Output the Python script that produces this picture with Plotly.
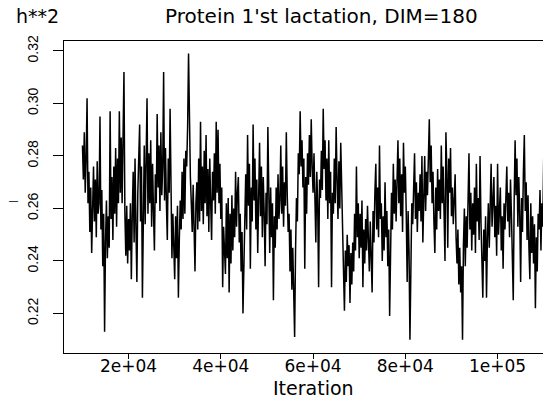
import plotly.graph_objects as go

# ---- data (one sample every 200 iterations) ----
start_iter = 10000
step_iter = 200
h2 = [
    0.284, 0.271, 0.289, 0.266, 0.279, 0.302, 0.262, 0.274, 0.251, 0.268,
    0.243, 0.266, 0.276, 0.255, 0.271, 0.249, 0.278, 0.258, 0.262, 0.295,
    0.252, 0.267, 0.238, 0.258, 0.213, 0.247, 0.263, 0.241, 0.257, 0.245,
    0.297, 0.256, 0.272, 0.248, 0.276, 0.258, 0.283, 0.253, 0.279, 0.262,
    0.297, 0.266, 0.287, 0.262, 0.283, 0.312, 0.258, 0.242, 0.261, 0.239,
    0.256, 0.244, 0.262, 0.233, 0.258, 0.274, 0.247, 0.279, 0.252, 0.232,
    0.266, 0.281, 0.292, 0.255, 0.276, 0.226, 0.263, 0.284, 0.254, 0.271,
    0.302, 0.258, 0.281, 0.262, 0.286, 0.253, 0.277, 0.259, 0.244, 0.273,
    0.262, 0.296, 0.268, 0.284, 0.259, 0.289, 0.265, 0.276, 0.312, 0.263,
    0.283, 0.262, 0.248, 0.279, 0.266, 0.298, 0.270, 0.241, 0.258, 0.245,
    0.233, 0.257, 0.241, 0.261, 0.226, 0.248, 0.263, 0.252, 0.274, 0.256,
    0.279, 0.258, 0.282, 0.276, 0.291, 0.319, 0.287, 0.272, 0.262, 0.251,
    0.269, 0.247, 0.236, 0.262, 0.270, 0.252, 0.279, 0.255, 0.293, 0.259,
    0.276, 0.254, 0.282, 0.262, 0.288, 0.257, 0.275, 0.251, 0.279, 0.262,
    0.248, 0.274, 0.263, 0.281, 0.258, 0.293, 0.266, 0.290, 0.262, 0.277,
    0.256, 0.268, 0.230, 0.253, 0.246, 0.235, 0.262, 0.241, 0.264, 0.228,
    0.258, 0.239, 0.265, 0.244, 0.260, 0.249, 0.274, 0.253, 0.266, 0.272,
    0.247, 0.258, 0.236, 0.251, 0.220, 0.244, 0.259, 0.273, 0.252, 0.288,
    0.261, 0.277, 0.237, 0.268, 0.255, 0.292, 0.263, 0.279, 0.252, 0.271,
    0.243, 0.268, 0.285, 0.257, 0.276, 0.249, 0.272, 0.258, 0.238, 0.266,
    0.254, 0.291, 0.259, 0.243, 0.268, 0.249, 0.262, 0.225, 0.257, 0.245,
    0.268, 0.252, 0.273, 0.256, 0.263, 0.284, 0.258, 0.276, 0.253, 0.270,
    0.261, 0.289, 0.265, 0.251, 0.258, 0.236, 0.252, 0.229, 0.245, 0.226,
    0.211, 0.244, 0.264, 0.255, 0.281, 0.273, 0.297, 0.276, 0.286, 0.268,
    0.279, 0.237, 0.272, 0.258, 0.281, 0.269, 0.288, 0.272, 0.294, 0.276,
    0.266, 0.281, 0.257, 0.247, 0.274, 0.262, 0.230, 0.271, 0.264, 0.282,
    0.267, 0.298, 0.275, 0.286, 0.263, 0.279, 0.256, 0.286, 0.262, 0.274,
    0.230, 0.266, 0.258, 0.279, 0.262, 0.291, 0.271, 0.256, 0.278, 0.260,
    0.285, 0.264, 0.247, 0.236, 0.221, 0.244, 0.232, 0.250, 0.238, 0.246,
    0.224, 0.243, 0.231, 0.247, 0.236, 0.258, 0.244, 0.276, 0.249, 0.262,
    0.241, 0.258, 0.245, 0.263, 0.230, 0.252, 0.239, 0.256, 0.244, 0.261,
    0.248, 0.236, 0.255, 0.242, 0.228, 0.259, 0.247, 0.266, 0.277, 0.252,
    0.268, 0.249, 0.284, 0.256, 0.262, 0.240, 0.257, 0.244, 0.270, 0.249,
    0.259, 0.238, 0.252, 0.219, 0.245, 0.266, 0.252, 0.277, 0.258, 0.271,
    0.255, 0.275, 0.286, 0.262, 0.279, 0.257, 0.273, 0.251, 0.285, 0.266,
    0.276, 0.258, 0.232, 0.259, 0.244, 0.210, 0.249, 0.262, 0.254, 0.272,
    0.281, 0.256, 0.270, 0.251, 0.266, 0.259, 0.273, 0.255, 0.280, 0.247,
    0.268, 0.280, 0.259, 0.274, 0.265, 0.282, 0.294, 0.270, 0.284, 0.262,
    0.274, 0.255, 0.243, 0.268, 0.252, 0.275, 0.259, 0.271, 0.256, 0.284,
    0.262, 0.276, 0.258, 0.240, 0.289, 0.274, 0.245, 0.279, 0.266, 0.283,
    0.257, 0.268, 0.254, 0.265, 0.273, 0.249, 0.239, 0.252, 0.231, 0.245,
    0.228, 0.238, 0.210, 0.246, 0.260, 0.238, 0.257, 0.245, 0.264, 0.281,
    0.252, 0.266, 0.244, 0.262, 0.250, 0.268, 0.243, 0.277, 0.255, 0.264,
    0.248, 0.280, 0.255, 0.238, 0.226, 0.252, 0.240, 0.257, 0.226, 0.249,
    0.262, 0.245, 0.268, 0.277, 0.253, 0.264, 0.272, 0.249, 0.261, 0.242,
    0.277, 0.250, 0.259, 0.268, 0.244, 0.257, 0.237, 0.262, 0.252, 0.270,
    0.276, 0.255, 0.266, 0.249, 0.271, 0.258, 0.246, 0.225, 0.263, 0.286,
    0.265, 0.279, 0.253, 0.272, 0.258, 0.232, 0.264, 0.251, 0.274, 0.288,
    0.259, 0.270, 0.248, 0.265, 0.245, 0.233, 0.262, 0.243, 0.257, 0.239,
    0.254, 0.222, 0.249, 0.236, 0.258, 0.252, 0.267, 0.244, 0.262, 0.253,
    0.279,
]
iterations = [start_iter + i * step_iter for i in range(len(h2))]

x_tick_vals = [20000, 40000, 60000, 80000, 100000]
x_tick_text = ["2e+04", "4e+04", "6e+04", "8e+04", "1e+05"]
y_tick_vals = [0.22, 0.24, 0.26, 0.28, 0.30, 0.32]
y_tick_text = ["0.22", "0.24", "0.26", "0.28", "0.30", "0.32"]

title_left = "h**2"
title_main = "Protein 1'st lactation, DIM=180"
x_label = "Iteration"
y_label = "|"

# ---- layout geometry (page pixels; the page body has an 8px margin) ----
BODY = 8
PAGE_W, PAGE_H = 551, 403
W, H = PAGE_W - BODY, PAGE_H - BODY
PLOT_L, PLOT_R, PLOT_T, PLOT_B = 64, 546, 41, 353   # plot area in page px
ML = PLOT_L - BODY
MT = PLOT_T - BODY
MR = W - (PLOT_R - BODY)
MB = H - (PLOT_B - BODY)
PW, PH = PLOT_R - PLOT_L, PLOT_B - PLOT_T


def px_x(p):
    return (p - PLOT_L) / PW


def px_y(p):
    return (PLOT_B - p) / PH


fig = go.Figure()
fig.add_trace(go.Scatter(
    x=iterations, y=h2, mode="lines",
    line=dict(color="black", width=1.5),
    hoverinfo="skip", showlegend=False,
))

tick_font = dict(family="DejaVu Sans", size=17, color="black")
fig.update_layout(
    width=W, height=H,
    margin=dict(l=ML, r=MR, t=MT, b=MB, pad=0, autoexpand=False),
    paper_bgcolor="white", plot_bgcolor="white",
    showlegend=False,
    xaxis=dict(
        range=[6000, 6000 + PW / 0.0046125],
        tickmode="array", tickvals=x_tick_vals, ticktext=x_tick_text,
        ticks="outside", ticklen=5, tickwidth=1, tickcolor="black",
        showline=True, linecolor="black", linewidth=1, mirror=True,
        showgrid=False, zeroline=False, automargin=False,
        tickfont=tick_font,
        ticklabelstandoff=-7,
    ),
    yaxis=dict(
        range=[0.2049, 0.3238],
        tickmode="array", tickvals=y_tick_vals, ticktext=y_tick_text,
        ticks="outside", ticklen=10, tickwidth=1, tickcolor="black",
        showline=True, linecolor="black", linewidth=1, mirror=False,
        showgrid=False, zeroline=False, automargin=False,
        tickangle=-90,
        tickfont=dict(family="Liberation Sans", size=14, color="black"),
        ticklabelstandoff=9,
    ),
    annotations=[
        dict(text=title_left, x=px_x(14), y=px_y(16), xref="paper", yref="paper",
             xanchor="left", yanchor="middle", showarrow=False,
             font=dict(family="DejaVu Sans", size=19, color="black")),
        dict(text=title_main, x=px_x(321.5), y=px_y(16), xref="paper", yref="paper",
             xanchor="center", yanchor="middle", showarrow=False,
             font=dict(family="DejaVu Sans", size=20, color="black")),
        dict(text=x_label, x=px_x(313.3), y=px_y(388), xref="paper", yref="paper",
             xanchor="center", yanchor="middle", showarrow=False,
             font=dict(family="DejaVu Sans", size=19, color="black")),
        dict(text=y_label, x=px_x(14), y=px_y(202), xref="paper", yref="paper",
             xanchor="center", yanchor="middle", showarrow=False, textangle=-90,
             font=dict(family="DejaVu Sans", size=8, color="black")),
    ],
)

fig.write_html("out.html")
